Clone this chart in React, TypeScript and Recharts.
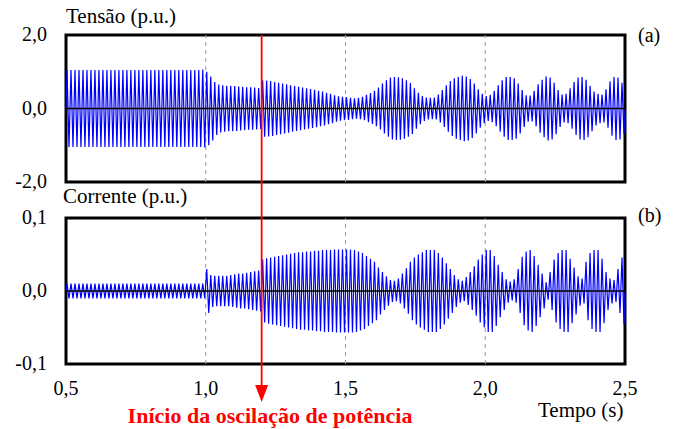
import React from 'react';
import { LineChart, Line, XAxis, YAxis, ReferenceLine, ReferenceArea } from 'recharts';

// peak amplitude of each oscillation cycle
// 0.5 s .. 2.5 s, 7 cycles per row = 0.1 s
const voltPeaks = [
  1.05, 1.05, 1.05, 1.05, 1.05, 1.05, 1.05,
  1.05, 1.05, 1.05, 1.05, 1.05, 1.05, 1.05,
  1.05, 1.05, 1.05, 1.05, 1.05, 1.05, 1.05,
  1.05, 1.05, 1.05, 1.05, 1.05, 1.05, 1.05,
  1.05, 1.05, 1.05, 1.05, 1.05, 1.05, 1.06,
  1.0, 0.87, 0.72, 0.65, 0.63, 0.62, 0.62,
  0.61, 0.6, 0.59, 0.58, 0.58, 0.57, 0.56,
  0.77, 0.76, 0.75, 0.72, 0.7, 0.68, 0.66,
  0.63, 0.61, 0.59, 0.57, 0.55, 0.53, 0.51,
  0.48, 0.46, 0.43, 0.4, 0.36, 0.33, 0.32,
  0.31, 0.29, 0.28, 0.29, 0.32, 0.37, 0.42,
  0.48, 0.57, 0.68, 0.77, 0.84, 0.86, 0.85,
  0.82, 0.77, 0.69, 0.55, 0.43, 0.34, 0.3,
  0.29, 0.3, 0.38, 0.5, 0.63, 0.75, 0.82,
  0.86, 0.89, 0.87, 0.8, 0.68, 0.52, 0.4,
  0.34, 0.37, 0.48, 0.63, 0.77, 0.86, 0.86,
  0.82, 0.68, 0.5, 0.36, 0.35, 0.48, 0.66,
  0.78, 0.87, 0.84, 0.7, 0.5, 0.38, 0.4,
  0.55, 0.72, 0.84, 0.86, 0.78, 0.62, 0.46,
  0.4, 0.38, 0.52, 0.74, 0.86, 0.84, 0.7,
];

const currPeaks = [
  0.01, 0.01, 0.01, 0.01, 0.01, 0.01, 0.01,
  0.01, 0.01, 0.01, 0.01, 0.01, 0.01, 0.01,
  0.01, 0.01, 0.01, 0.01, 0.01, 0.01, 0.01,
  0.01, 0.01, 0.01, 0.01, 0.01, 0.01, 0.01,
  0.01, 0.01, 0.01, 0.01, 0.01, 0.01, 0.01,
  0.03, 0.022, 0.021, 0.021, 0.021, 0.021, 0.022,
  0.023, 0.024, 0.024, 0.025, 0.026, 0.027, 0.028,
  0.043, 0.045, 0.046, 0.047, 0.048, 0.049, 0.05,
  0.051, 0.052, 0.053, 0.053, 0.054, 0.054, 0.055,
  0.055, 0.056, 0.056, 0.056, 0.057, 0.057, 0.057,
  0.057, 0.057, 0.056, 0.054, 0.052, 0.048, 0.044,
  0.04, 0.032, 0.026, 0.02, 0.015, 0.014, 0.017,
  0.024, 0.031, 0.04, 0.046, 0.05, 0.053, 0.056,
  0.056, 0.056, 0.052, 0.046, 0.038, 0.03, 0.022,
  0.016, 0.014, 0.019, 0.026, 0.034, 0.043, 0.05,
  0.056, 0.056, 0.048, 0.036, 0.026, 0.016, 0.013,
  0.016, 0.03, 0.047, 0.054, 0.056, 0.048, 0.036,
  0.024, 0.012, 0.026, 0.043, 0.052, 0.056, 0.056,
  0.044, 0.032, 0.02, 0.017, 0.04, 0.052, 0.056,
  0.056, 0.044, 0.026, 0.017, 0.015, 0.03, 0.046,
];

const timeTicks = [0.5, 1.0, 1.5, 2.0, 2.5];
const gridTimes = [1.0, 1.5, 2.0];
const voltTicks = [-2, 0, 2];
const currTicks = [-0.1, 0, 0.1];
const eventTime = 1.2;

const T_START = 0.5;
const T_END = 2.5;
const CYCLE = 1 / 70;

const W = 678;
const H = 429;
const LEFT = 66;
const RIGHT = 625;
const FONT = 'Liberation Serif, Times New Roman, serif';

// one positive and one negative peak per cycle
const toWave = (peaks: number[]) => {
  const pts = [{ t: T_START, v: 0 }];
  peaks.forEach((a, k) => {
    pts.push({ t: T_START + (k + 0.25) * CYCLE, v: a });
    pts.push({ t: T_START + (k + 0.75) * CYCLE, v: -a });
  });
  pts.push({ t: T_END, v: 0 });
  return pts;
};

const voltData = toWave(voltPeaks);
const currData = toWave(currPeaks);

const fmt = (v: number) => v.toFixed(1).replace('.', ',');
const xPx = (t: number) => LEFT + ((t - T_START) / (T_END - T_START)) * (RIGHT - LEFT);

const YTick = (props: any) => {
  const { x, y, payload } = props;
  return (
    <text x={x} y={y + 6} textAnchor="end" style={{ fontFamily: FONT, fontSize: 20 }} fill="#000">
      {fmt(payload.value)}
    </text>
  );
};

const XTick = (props: any) => {
  const { x, y, payload } = props;
  return (
    <text x={x} y={y + 31} textAnchor="middle" style={{ fontFamily: FONT, fontSize: 20 }} fill="#000">
      {fmt(payload.value)}
    </text>
  );
};

const Panel = ({ data, ticks, top, bottom, showX }: any) => {
  const lo = ticks[0];
  const hi = ticks[ticks.length - 1];
  return (
    <LineChart
      width={W}
      height={H}
      data={data}
      margin={{ top, right: W - RIGHT, left: 0, bottom: showX ? H - bottom - 30 : H - bottom }}
      style={{ position: 'absolute', left: 0, top: 0 }}
    >
      <XAxis
        dataKey="t"
        type="number"
        domain={[T_START, T_END]}
        ticks={timeTicks}
        hide={!showX}
        height={30}
        axisLine={false}
        tickLine={false}
        tickSize={0}
        tickMargin={0}
        tick={<XTick />}
        interval={0}
      />
      <YAxis
        type="number"
        domain={[lo, hi]}
        ticks={ticks}
        width={LEFT}
        axisLine={false}
        tickLine={false}
        tickSize={0}
        tickMargin={19}
        tick={<YTick />}
        interval={0}
      />
      {gridTimes.map((g) => (
        <ReferenceLine key={g} x={g} stroke="#999" strokeDasharray="4 4" strokeWidth={1} />
      ))}
      <Line
        type="linear"
        dataKey="v"
        stroke="#0000ff"
        strokeWidth={1.2}
        dot={false}
        isAnimationActive={false}
      />
      <ReferenceLine y={0} stroke="#000" strokeWidth={1.5} />
      <ReferenceArea x1={T_START} x2={T_END} y1={lo} y2={hi} fill="none" fillOpacity={0} stroke="#000" strokeWidth={3} />
    </LineChart>
  );
};

export default function App() {
  const ex = xPx(eventTime);
  const txt = { fontFamily: FONT };
  return (
    <div style={{ position: 'absolute', left: 0, top: 0, width: W, height: H, background: '#fff' }}>
      <Panel data={voltData} ticks={voltTicks} top={35} bottom={182} showX={false} />
      <Panel data={currData} ticks={currTicks} top={218} bottom={364} showX={true} />
      <svg width={W} height={H} style={{ position: 'absolute', left: 0, top: 0, pointerEvents: 'none' }}>
        <text x={66} y={23} style={{ ...txt, fontSize: 21 }} fill="#000">Tensão (p.u.)</text>
        <text x={63} y={203} style={{ ...txt, fontSize: 21 }} fill="#000">Corrente (p.u.)</text>
        <text x={638} y={42} style={{ ...txt, fontSize: 20 }} fill="#000">(a)</text>
        <text x={638} y={222} style={{ ...txt, fontSize: 20 }} fill="#000">(b)</text>
        <text x={538} y={417} style={{ ...txt, fontSize: 21 }} fill="#000">Tempo (s)</text>
        <line x1={ex} y1={35} x2={ex} y2={388} stroke="#ff0000" strokeWidth={1.8} />
        <polygon points={`${ex - 6.5},385 ${ex + 6.5},385 ${ex},402`} fill="#ff0000" />
        <text x={270} y={423} textAnchor="middle" style={{ ...txt, fontSize: 22, fontWeight: 'bold' }} fill="#ff0000">
          Início da oscilação de potência
        </text>
      </svg>
    </div>
  );
}
